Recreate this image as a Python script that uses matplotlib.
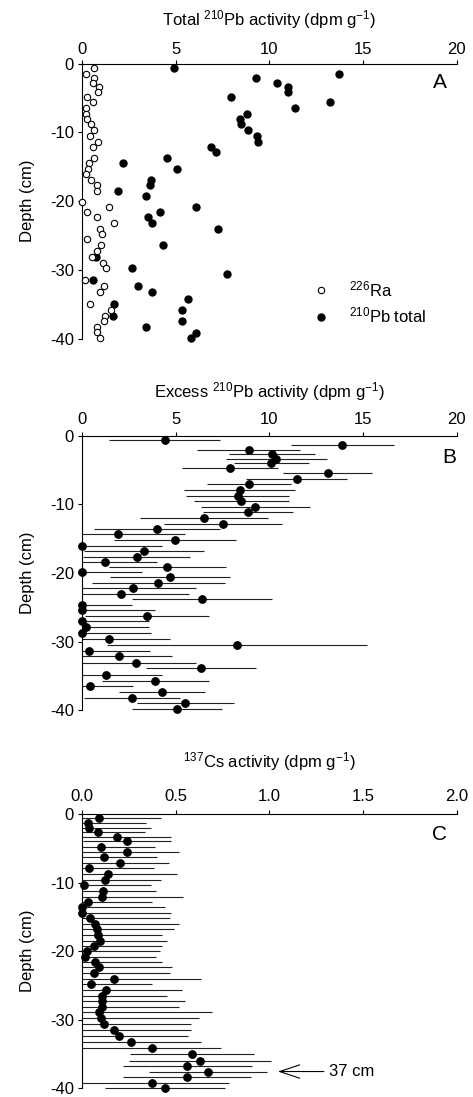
import matplotlib
matplotlib.use('Agg')
import matplotlib.pyplot as plt
from matplotlib.lines import Line2D
import numpy as np

plt.rcParams['font.family'] = 'Liberation Sans'
plt.rcParams['mathtext.fontset'] = 'custom'
plt.rcParams['mathtext.rm'] = 'Liberation Sans'
plt.rcParams['mathtext.it'] = 'Liberation Sans:italic'
plt.rcParams['axes.unicode_minus'] = False
plt.rcParams['font.size'] = 12

# Panel A - total 210Pb and 226Ra
pb_total_depth = [-0.7, -1.5, -2.15, -2.8, -3.45, -4.15, -4.85, -5.65, -6.4, -7.3,
                  -8.05, -8.85, -9.7, -10.5, -11.35, -12.1, -12.9, -13.65, -14.5, -15.35,
                  -16.85, -17.7, -18.45, -19.3, -20.85, -21.55, -22.35, -23.2, -24.0, -26.4,
                  -28.1, -29.75, -30.6, -31.5, -32.35, -33.2, -34.15, -34.95, -35.85, -36.7,
                  -37.45, -38.3, -39.1, -39.9]
pb_total = [4.9, 13.7, 9.3, 10.4, 11.0, 11.0, 7.95, 13.25, 11.35, 8.8,
            8.4, 8.5, 8.85, 9.35, 9.4, 6.85, 7.15, 4.5, 2.2, 5.05,
            3.65, 3.6, 1.9, 3.4, 6.05, 4.15, 3.5, 3.7, 7.25, 4.3,
            0.75, 2.65, 7.75, 0.55, 3.0, 3.7, 5.65, 1.7, 5.35, 1.65,
            5.3, 3.4, 6.05, 5.8]

ra_depth = [-0.7, -1.5, -2.15, -2.8, -3.45, -4.15, -4.85, -5.65, -6.4, -7.3,
            -8.05, -8.85, -9.7, -10.5, -11.35, -12.1, -13.65, -14.5, -15.3, -16.1,
            -16.9, -17.7, -18.45, -20.05, -20.85, -21.55, -22.35, -23.2, -24.0, -24.8,
            -25.55, -26.4, -27.2, -28.1, -28.9, -29.75, -31.5, -32.3, -33.2, -34.9,
            -35.85, -36.65, -37.45, -38.3, -39.05, -39.9]
ra = [0.65, 0.2, 0.6, 0.55, 0.9, 0.85, 0.25, 0.55, 0.2, 0.2,
      0.25, 0.45, 0.6, 0.4, 0.85, 0.55, 0.6, 0.35, 0.3, 0.2,
      0.45, 0.8, 0.8, 0.0, 1.45, 0.25, 0.8, 1.7, 0.95, 1.05,
      0.25, 1.0, 0.8, 0.5, 1.1, 1.25, 0.15, 1.15, 0.95, 0.4,
      1.55, 1.2, 1.15, 0.8, 0.8, 0.95]

# Panel B - excess 210Pb
xs_depth = [-0.55, -1.4, -2.1, -2.65, -3.35, -4.0, -4.75, -5.5, -6.3, -7.1,
            -7.9, -8.75, -9.55, -10.4, -11.15, -12.0, -12.85, -13.55, -14.35, -15.15,
            -16.0, -16.8, -17.6, -18.35, -19.15, -19.85, -20.65, -21.4, -22.2, -23.0,
            -23.85, -24.65, -25.4, -26.3, -27.05, -27.85, -28.75, -29.6, -30.5, -31.35,
            -32.15, -33.1, -33.9, -34.8, -35.75, -36.5, -37.35, -38.15, -38.95, -39.75]
xs = [4.4, 13.9, 8.9, 10.15, 10.35, 10.1, 7.9, 13.1, 11.45, 8.9,
      8.4, 8.3, 8.5, 9.25, 8.85, 6.5, 7.5, 4.0, 1.9, 4.95,
      0.0, 3.3, 2.9, 1.2, 4.55, 0.0, 4.7, 4.05, 2.7, 2.05,
      6.4, 0.0, 0.0, 3.45, 0.0, 0.2, 0.0, 1.45, 8.25, 0.35,
      1.95, 2.85, 6.35, 1.25, 3.9, 0.4, 4.25, 2.65, 5.5, 5.05]
xs_err = [2.95, 2.75, 2.75, 2.3, 2.7, 2.0, 2.55, 2.4, 2.7, 2.25,
          2.95, 2.75, 2.55, 2.9, 2.4, 3.4, 3.15, 3.35, 3.6, 3.25,
          4.25, 3.2, 2.85, 2.8, 3.1, 3.2, 3.2, 3.55, 3.35, 3.65,
          3.75, 2.65, 3.9, 3.3, 3.55, 3.35, 3.65, 3.25, 6.95, 3.25,
          2.85, 3.25, 2.95, 3.0, 2.85, 2.3, 2.3, 2.55, 2.6, 2.4]

# Panel C - 137Cs
cs_depth = [-0.6, -1.35, -2.1, -2.65, -3.4, -4.0, -4.75, -5.5, -6.3, -7.15,
            -7.9, -8.8, -9.6, -10.4, -11.25, -12.05, -12.85, -13.6, -14.4, -15.2,
            -16.05, -16.8, -17.6, -18.45, -19.25, -20.0, -20.8, -21.55, -22.35, -23.2,
            -24.0, -24.85, -25.6, -26.5, -27.25, -28.1, -28.9, -29.7, -30.65, -31.5,
            -32.35, -33.2, -34.15, -35.0, -35.95, -36.7, -37.55, -38.4, -39.2, -40.0]
cs = [0.09, 0.03, 0.035, 0.085, 0.185, 0.24, 0.1, 0.24, 0.115, 0.2,
      0.035, 0.135, 0.12, 0.01, 0.11, 0.105, 0.03, 0.0, 0.0, 0.04,
      0.07, 0.08, 0.085, 0.095, 0.06, 0.025, 0.015, 0.07, 0.09, 0.065,
      0.17, 0.045, 0.125, 0.105, 0.105, 0.105, 0.09, 0.1, 0.115, 0.17,
      0.195, 0.26, 0.37, 0.585, 0.63, 0.56, 0.67, 0.56, 0.375, 0.44]
cs_err = [0.33, 0.31, 0.33, 0.25, 0.29, 0.235, 0.29, 0.275, 0.285, 0.265,
          0.35, 0.37, 0.30, 0.355, 0.285, 0.435, 0.345, 0.44, 0.475, 0.43,
          0.445, 0.41, 0.34, 0.36, 0.365, 0.39, 0.38, 0.355, 0.39, 0.405,
          0.465, 0.33, 0.405, 0.35, 0.445, 0.41, 0.605, 0.525, 0.465, 0.41,
          0.37, 0.375, 0.37, 0.33, 0.38, 0.345, 0.315, 0.34, 0.41, 0.32]

depth_ticks = [0, -10, -20, -30, -40]


def style_axis(ax, xticks, xticklabels, xlabel, xpad, labelpad):
    ax.set_ylim(-40, 0)
    ax.set_xlim(xticks[0], xticks[-1])
    ax.spines['right'].set_visible(False)
    ax.spines['bottom'].set_visible(False)
    ax.xaxis.tick_top()
    ax.xaxis.set_label_position('top')
    ax.set_xticks(xticks)
    ax.set_xticklabels(xticklabels)
    ax.set_yticks(depth_ticks)
    ax.set_yticklabels([str(t) for t in depth_ticks])
    ax.tick_params(axis='x', direction='out', length=3, width=0.8, pad=xpad, labelsize=12)
    ax.tick_params(axis='y', direction='out', length=3, width=0.8, pad=3, labelsize=12)
    ax.set_xlabel(xlabel, fontsize=12, labelpad=labelpad)
    ax.set_ylabel('Depth (cm)', fontsize=12, labelpad=11)


fig = plt.figure(figsize=(4.73, 10.97), dpi=100)

# A
ax1 = fig.add_axes([0.174, 0.691, 0.7915, 0.2511])
ax1.plot(pb_total, pb_total_depth, 'o', color='black', ms=5, clip_on=False, zorder=2)
ax1.plot(ra, ra_depth, 'o', mfc='white', mec='black', mew=0.8, ms=4.6, clip_on=False, zorder=3)
style_axis(ax1, [0, 5, 10, 15, 20], ['0', '5', '10', '15', '20'],
           'Total $^{210}$Pb activity (dpm g$^{-1}$)', 1.5, 12)
ax1.text(19.1, -2.8, 'A', fontsize=15, ha='center', va='center')
handles = [Line2D([], [], ls='none', marker='o', mfc='white', mec='black', mew=0.8, ms=4.6),
           Line2D([], [], ls='none', marker='o', color='black', ms=5)]
ax1.legend(handles, ['$^{226}$Ra', '$^{210}$Pb total'], loc='center left',
           bbox_to_anchor=(0.615, 0.132), frameon=False, fontsize=12,
           borderaxespad=0, borderpad=0,
           handletextpad=1.2, labelspacing=0.4, handlelength=1.0)

# B
ax2 = fig.add_axes([0.174, 0.3525, 0.7915, 0.2503])
xs_a = np.array(xs)
xs_e = np.array(xs_err)
ax2.errorbar(xs_a, xs_depth, xerr=[np.minimum(xs_e, xs_a), xs_e], fmt='o', color='black',
             ecolor='#222222', elinewidth=0.8, capsize=0, ms=5.3, clip_on=False)
style_axis(ax2, [0, 5, 10, 15, 20], ['0', '5', '10', '15', '20'],
           'Excess $^{210}$Pb activity (dpm g$^{-1}$)', 3.5, 10)
ax2.text(19.6, -3.2, 'B', fontsize=15, ha='center', va='center')

# C
ax3 = fig.add_axes([0.174, 0.0079, 0.7915, 0.2501])
cs_a = np.array(cs)
cs_e = np.array(cs_err)
ax3.errorbar(cs_a, cs_depth, xerr=[np.minimum(cs_e, cs_a), cs_e], fmt='o', color='black',
             ecolor='#222222', elinewidth=0.8, capsize=0, ms=5.3, clip_on=False)
style_axis(ax3, [0.0, 0.5, 1.0, 1.5, 2.0], ['0.0', '0.5', '1.0', '1.5', '2.0'],
           '$^{137}$Cs activity (dpm g$^{-1}$)', 4.5, 15)
ax3.text(1.91, -3.06, 'C', fontsize=15, ha='center', va='center')
ax3.annotate('37 cm', xy=(1.045, -37.55), xytext=(1.32, -37.55), va='center', ha='left',
             fontsize=12,
             arrowprops=dict(arrowstyle='->, head_length=1.2, head_width=0.4', lw=0.8,
                             color='black', shrinkA=2, shrinkB=0))

fig.savefig('out.png', dpi=100)
